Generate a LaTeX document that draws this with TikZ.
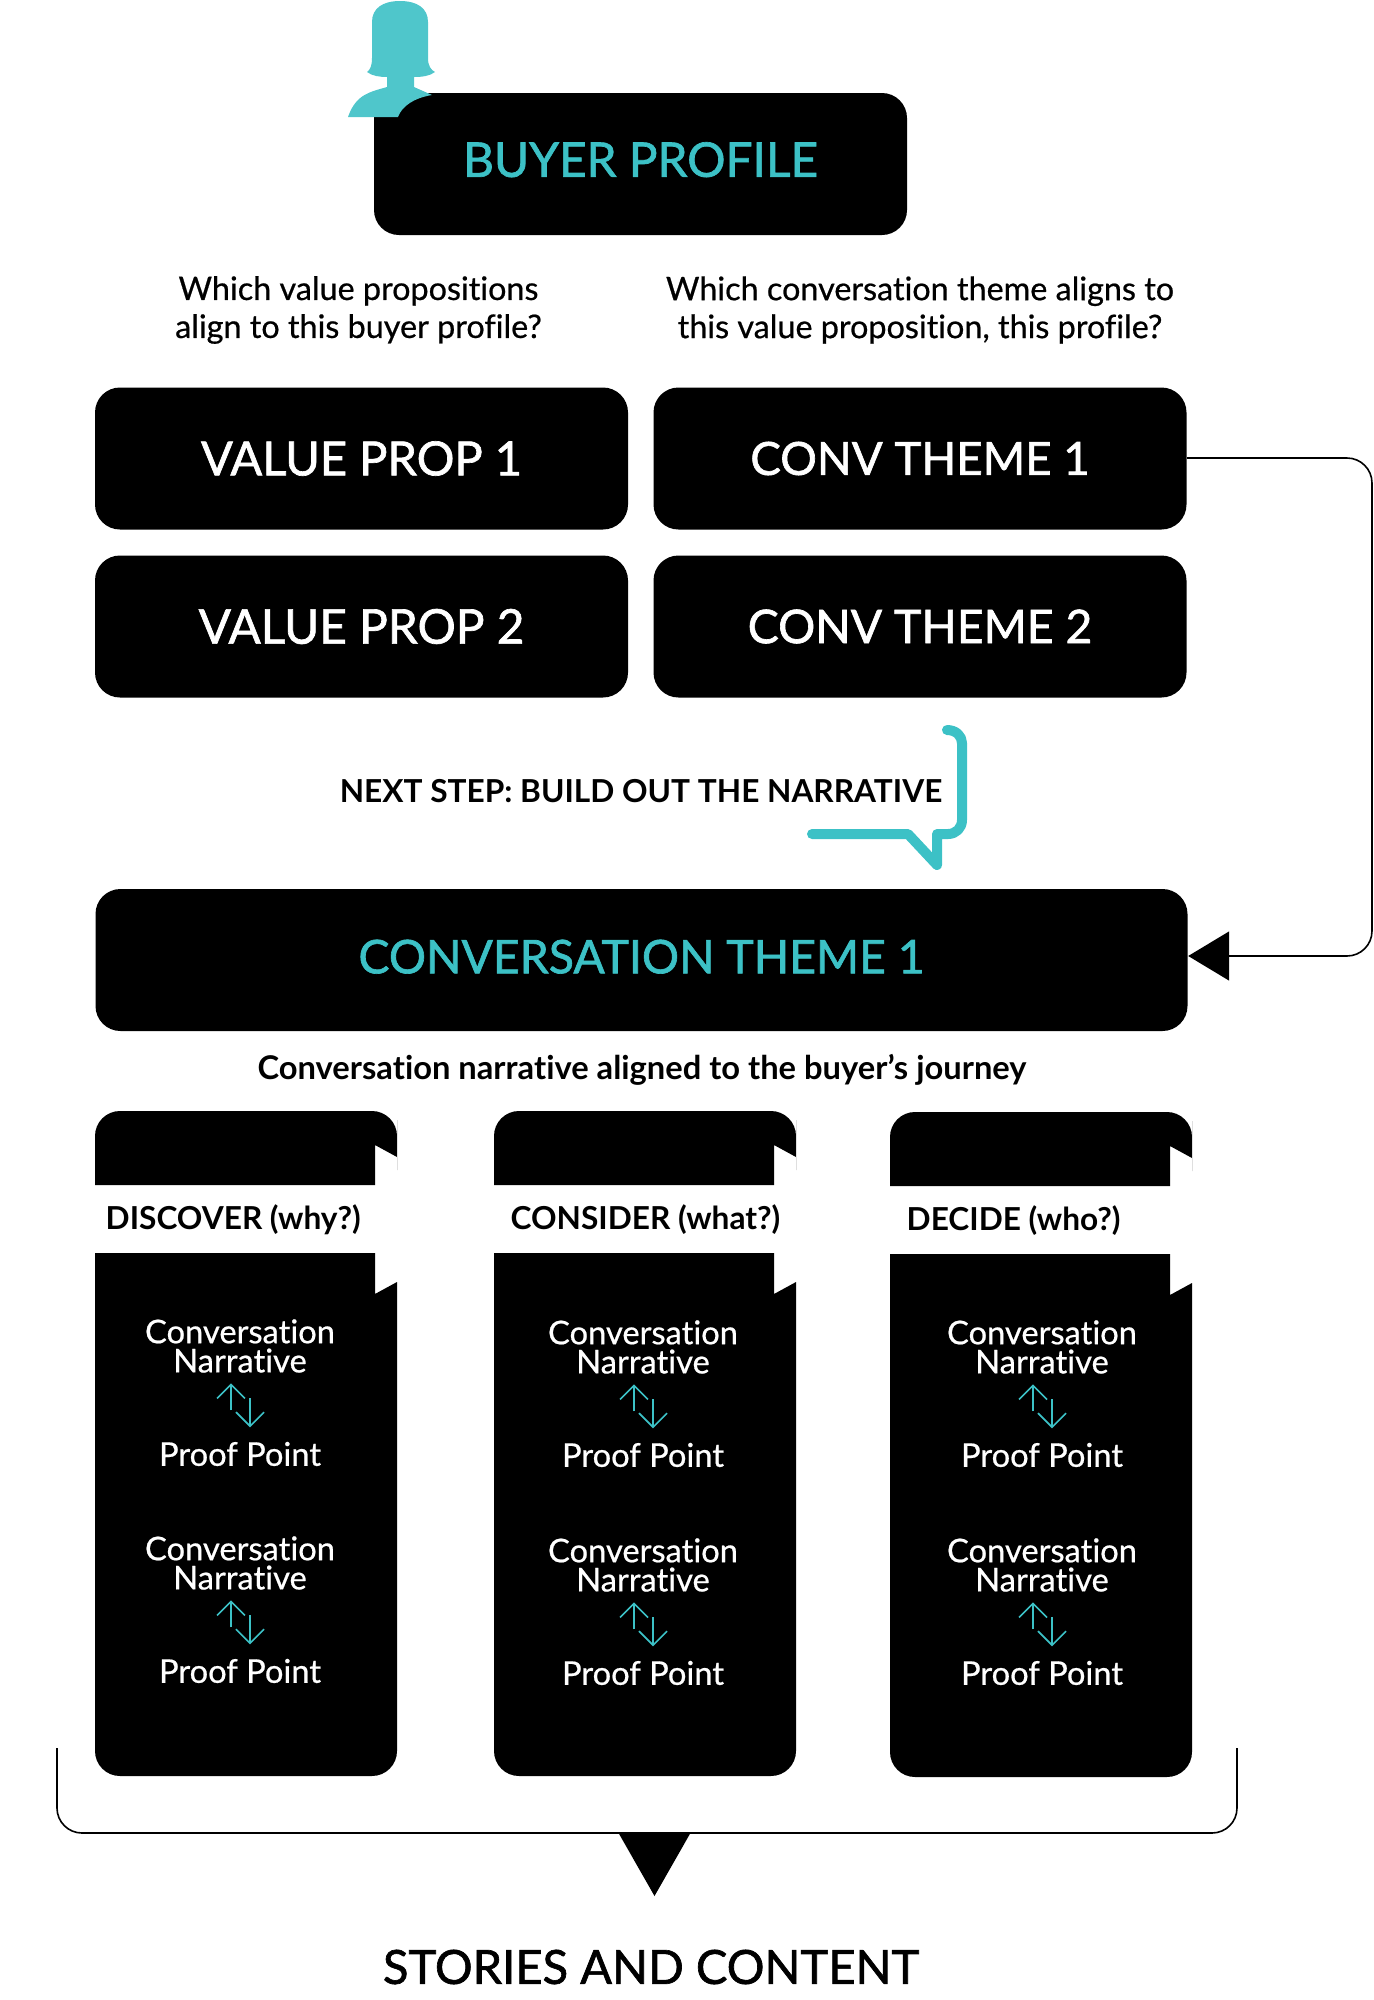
\documentclass[tikz,border=0pt]{standalone}
\usepackage{fontspec}
\usepackage{xcolor}
\usepackage{tikz}
\usetikzlibrary{arrows.meta}
\setmainfont[RawFeature={-liga}]{Lato}
\newfontfamily\medfont[RawFeature={-liga},FakeBold=1.4]{Lato}
\newfontfamily\softfont[RawFeature={-liga},FakeBold=0.6]{Lato}
\definecolor{tealmark}{RGB}{60, 193, 198}
\definecolor{tealicon}{RGB}{79, 198, 203}
\tikzset{
  darkbox/.style={fill=black, rounded corners=0.25cm, inner sep=0pt, minimum height=1.42cm},
  boxtext/.style={font=\medfont\fontsize{13.4}{14}\selectfont, text=white},
  tealtext/.style={font=\medfont\fontsize{13.2}{14}\selectfont, text=tealmark, text depth=0.07cm},
  asktext/.style={font=\softfont\fontsize{9.2}{10.8}\selectfont, align=center, inner sep=0pt},
  headtext/.style={font=\fontsize{9}{10}\selectfont\bfseries, inner sep=0pt},
  steptext/.style={font=\softfont\fontsize{9.3}{8.3}\selectfont, text=white, align=center, inner sep=0pt},
  updown/.style={tealmark, line width=0.016cm, -{Straight Barb[length=0.14cm,width=0.28cm]}},
  thinline/.style={black, line width=0.016cm, rounded corners=0.25cm}
}

\begin{document}
\begin{tikzpicture}
\useasboundingbox (0,0) rectangle (13.74,-20);

\node[darkbox, tealtext, minimum width=5.33cm, font=\medfont\fontsize{13.6}{14}\selectfont, text depth=0.09cm] (buyer) at (6.405,-1.64) {BUYER PROFILE};
\fill[tealicon] (4.00,-0.01) .. controls (3.83,-0.01) and (3.72,-0.08) .. (3.72,-0.22) -- (3.72,-0.58) .. controls (3.72,-0.66) and (3.70,-0.70) .. (3.67,-0.72) .. controls (3.72,-0.76) and (3.80,-0.77) .. (3.87,-0.77) -- (3.87,-0.87) .. controls (3.70,-0.92) and (3.56,-0.94) .. (3.48,-1.17) -- (3.98,-1.17) .. controls (4.02,-1.06) and (4.14,-0.98) .. (4.32,-0.95) -- (4.14,-0.87) -- (4.14,-0.77) .. controls (4.22,-0.77) and (4.30,-0.76) .. (4.35,-0.72) .. controls (4.31,-0.70) and (4.28,-0.66) .. (4.28,-0.58) -- (4.28,-0.22) .. controls (4.28,-0.08) and (4.17,-0.01) .. (4.00,-0.01) -- cycle;

\node[asktext] (askvalue) at (3.585,-3.10) {Which value propositions\\align to this buyer profile?};
\node[asktext] (asktheme) at (9.20,-3.10) {Which conversation theme aligns to\\this value proposition, this profile?};

\node[darkbox, boxtext, minimum width=5.33cm] (valuepropa) at (3.615,-4.585) {VALUE PROP 1};
\node[darkbox, boxtext, minimum width=5.33cm, font=\medfont\fontsize{13}{14}\selectfont] (convthemea) at (9.20,-4.585) {CONV THEME 1};
\node[darkbox, boxtext, minimum width=5.33cm, font=\medfont\fontsize{13.6}{14}\selectfont] (valuepropb) at (3.615,-6.265) {VALUE PROP 2};
\node[darkbox, boxtext, minimum width=5.33cm, font=\medfont\fontsize{13.2}{14}\selectfont] (convthemeb) at (9.20,-6.265) {CONV THEME 2};

\node[headtext] (nextstep) at (6.41,-7.91) {NEXT STEP: BUILD OUT THE NARRATIVE};
\draw[tealmark, line width=0.1cm, line cap=round, line join=round] (9.47,-7.30) .. controls (9.56,-7.30) and (9.62,-7.36) .. (9.62,-7.43) -- (9.62,-8.20) .. controls (9.62,-8.28) and (9.56,-8.34) .. (9.48,-8.34) -- (9.37,-8.34) -- (9.37,-8.65) -- (9.08,-8.34) -- (8.12,-8.34);

\node[darkbox, tealtext, minimum width=10.92cm] (maintheme) at (6.415,-9.60) {CONVERSATION THEME 1};
\coordinate (loopa) at (13.72,-4.58);
\coordinate (loopb) at (13.72,-9.56);
\draw[thinline, -{Triangle[length=0.41cm,width=0.49cm]}] (convthemea.east |- loopa) -- (loopa) -- (loopb) -- (maintheme.east |- loopb);

\node[headtext, font=\fontsize{9.3}{10}\selectfont\bfseries] (aligned) at (6.42,-10.70) {Conversation narrative aligned to the buyer’s journey};

% discover
\fill[black] (0.95,-11.85) [rounded corners=0.25cm] -- (0.95,-11.11) -- (3.97,-11.11) -- (3.97,-11.45) [sharp corners] -- (3.97,-11.57) -- (3.75,-11.45) -- (3.75,-11.85) -- cycle;
\fill[black] (0.95,-12.53) -- (3.75,-12.53) -- (3.75,-12.94) -- (3.97,-12.82) [rounded corners=0.25cm] -- (3.97,-17.76) -- (0.95,-17.76) [sharp corners] -- cycle;
\node[headtext, anchor=west] (discover) at (1.05,-12.20) {DISCOVER (why?)};
\node[steptext] (narra) at (2.40,-13.46) {Conversation\\Narrative};
\node[steptext] (proofa) at (2.40,-14.54) {Proof Point};
\node[steptext] (narrb) at (2.40,-15.63) {Conversation\\Narrative};
\node[steptext] (proofb) at (2.40,-16.71) {Proof Point};
\draw[updown] ([xshift=-0.09cm,yshift=0.31cm]proofa.north) -- ([xshift=-0.09cm,yshift=-0.10cm]narra.south);
\draw[updown] ([xshift=0.10cm,yshift=0.43cm]proofa.north) -- ([xshift=0.10cm,yshift=0.14cm]proofa.north);
\draw[updown] ([xshift=-0.09cm,yshift=0.31cm]proofb.north) -- ([xshift=-0.09cm,yshift=-0.10cm]narrb.south);
\draw[updown] ([xshift=0.10cm,yshift=0.43cm]proofb.north) -- ([xshift=0.10cm,yshift=0.14cm]proofb.north);

% consider
\fill[black] (4.94,-11.85) [rounded corners=0.25cm] -- (4.94,-11.11) -- (7.96,-11.11) -- (7.96,-11.45) [sharp corners] -- (7.96,-11.57) -- (7.74,-11.45) -- (7.74,-11.85) -- cycle;
\fill[black] (4.94,-12.53) -- (7.74,-12.53) -- (7.74,-12.94) -- (7.96,-12.82) [rounded corners=0.25cm] -- (7.96,-17.76) -- (4.94,-17.76) [sharp corners] -- cycle;
\node[headtext, anchor=west] (consider) at (5.10,-12.20) {CONSIDER (what?)};
\node[steptext] (narrc) at (6.43,-13.47) {Conversation\\Narrative};
\node[steptext] (proofc) at (6.43,-14.55) {Proof Point};
\node[steptext] (narrd) at (6.43,-15.65) {Conversation\\Narrative};
\node[steptext] (proofd) at (6.43,-16.73) {Proof Point};
\draw[updown] ([xshift=-0.09cm,yshift=0.31cm]proofc.north) -- ([xshift=-0.09cm,yshift=-0.10cm]narrc.south);
\draw[updown] ([xshift=0.10cm,yshift=0.43cm]proofc.north) -- ([xshift=0.10cm,yshift=0.14cm]proofc.north);
\draw[updown] ([xshift=-0.09cm,yshift=0.31cm]proofd.north) -- ([xshift=-0.09cm,yshift=-0.10cm]narrd.south);
\draw[updown] ([xshift=0.10cm,yshift=0.43cm]proofd.north) -- ([xshift=0.10cm,yshift=0.14cm]proofd.north);

% decide
\fill[black] (8.90,-11.86) [rounded corners=0.25cm] -- (8.90,-11.12) -- (11.92,-11.12) -- (11.92,-11.46) [sharp corners] -- (11.92,-11.58) -- (11.70,-11.46) -- (11.70,-11.86) -- cycle;
\fill[black] (8.90,-12.54) -- (11.70,-12.54) -- (11.70,-12.95) -- (11.92,-12.83) [rounded corners=0.25cm] -- (11.92,-17.77) -- (8.90,-17.77) [sharp corners] -- cycle;
\node[headtext, anchor=west] (decide) at (9.06,-12.21) {DECIDE (who?)};
\node[steptext] (narre) at (10.42,-13.47) {Conversation\\Narrative};
\node[steptext] (proofe) at (10.42,-14.55) {Proof Point};
\node[steptext] (narrf) at (10.42,-15.65) {Conversation\\Narrative};
\node[steptext] (prooff) at (10.42,-16.73) {Proof Point};
\draw[updown] ([xshift=-0.09cm,yshift=0.31cm]proofe.north) -- ([xshift=-0.09cm,yshift=-0.10cm]narre.south);
\draw[updown] ([xshift=0.10cm,yshift=0.43cm]proofe.north) -- ([xshift=0.10cm,yshift=0.14cm]proofe.north);
\draw[updown] ([xshift=-0.09cm,yshift=0.31cm]prooff.north) -- ([xshift=-0.09cm,yshift=-0.10cm]narrf.south);
\draw[updown] ([xshift=0.10cm,yshift=0.43cm]prooff.north) -- ([xshift=0.10cm,yshift=0.14cm]prooff.north);

\coordinate (bracketa) at (0.57,-17.48);
\coordinate (bracketb) at (0.57,-18.33);
\coordinate (bracketc) at (12.37,-18.33);
\coordinate (bracketd) at (12.37,-17.48);
\draw[thinline] (bracketa) -- (bracketb) -- (bracketc) -- (bracketd);
\fill[black] (6.18,-18.32) -- (6.91,-18.32) -- (6.545,-18.96) -- cycle;
\node[font=\medfont\fontsize{13.4}{14}\selectfont, inner sep=0pt] (stories) at (6.51,-19.67) {STORIES AND CONTENT};
\end{tikzpicture}
\end{document}
